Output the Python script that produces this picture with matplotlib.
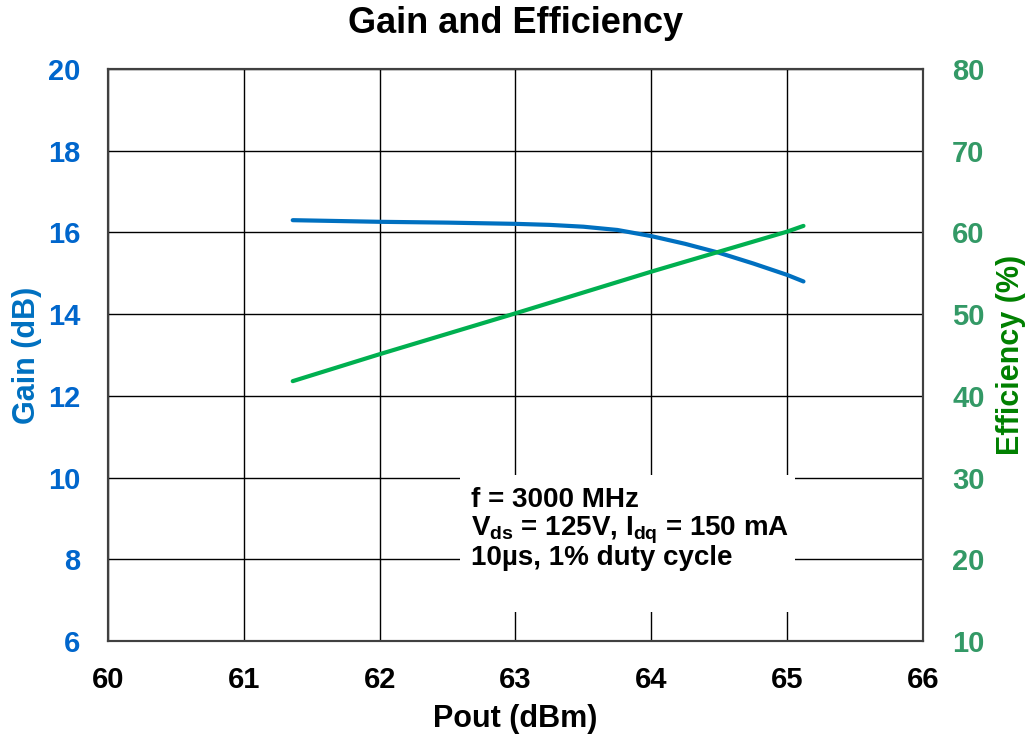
import matplotlib
matplotlib.use("Agg")
import matplotlib.pyplot as plt
from matplotlib.patches import Rectangle

plt.rcParams['font.family'] = ['Liberation Sans', 'DejaVu Sans']
plt.rcParams['font.weight'] = 'bold'
plt.rcParams['mathtext.fontset'] = 'custom'
plt.rcParams['mathtext.rm'] = 'Liberation Sans:bold'
plt.rcParams['mathtext.bf'] = 'Liberation Sans:bold'
plt.rcParams['mathtext.it'] = 'Liberation Sans:bold'

# data
pout_gain = [61.36, 62.0, 62.5, 63.0, 63.25, 63.5, 63.75, 64.0, 64.25, 64.5, 64.75, 65.0, 65.12]
gain = [16.30, 16.26, 16.24, 16.21, 16.185, 16.14, 16.06, 15.91, 15.72, 15.50, 15.24, 14.96, 14.80]
pout_eff = [61.36, 62.0, 63.0, 64.0, 65.0, 65.12]
eff = [41.8, 45.1, 50.1, 55.2, 60.1, 60.8]

x_ticks = [60, 61, 62, 63, 64, 65, 66]
gain_ticks = [6, 8, 10, 12, 14, 16, 18, 20]
eff_ticks = [10, 20, 30, 40, 50, 60, 70, 80]

notes = ['f = 3000 MHz',
         r'V$_{\mathrm{ds}}$ = 125V, I$_{\mathrm{dq}}$ = 150 mA',
         '10µs, 1% duty cycle']
notes_y = [9.28, 8.57, 7.86]

blue = '#0070C0'
green_line = '#00B050'
green_tick = '#339966'
green_label = '#008000'

fig = plt.figure(figsize=(10.29, 7.42), dpi=100)
ax = fig.add_axes([108/1029, 1-641/742, (923-108)/1029, (641-69)/742])
ax2 = ax.twinx()

ax.set_xlim(60, 66)
ax.set_ylim(6, 20)
ax2.set_ylim(10, 80)
ax.set_xticks(x_ticks)
ax.set_yticks(gain_ticks)
ax2.set_yticks(eff_ticks)
ax.grid(True, color='black', lw=1)

ax.tick_params(axis='x', length=0, pad=18, labelsize=21)
ax.tick_params(axis='y', length=0, pad=20, labelsize=21, labelcolor='#0066CC')
ax2.tick_params(axis='y', length=0, pad=21, labelsize=21, labelcolor=green_tick)

for a in (ax, ax2):
    for s in a.spines.values():
        s.set_color('#404040')
        s.set_linewidth(1.5)

ax.plot(pout_gain, gain, color=blue, lw=3, solid_capstyle='round', zorder=5)
ax2.plot(pout_eff, eff, color=green_line, lw=3, solid_capstyle='round', zorder=5)

# white box behind the conditions text
ax.add_patch(Rectangle((62.59, 6.71), 2.47, 3.35, facecolor='white', edgecolor='none', zorder=3))
for txt, yy in zip(notes, notes_y):
    ax.text(62.67, yy, txt, fontsize=20, fontweight='bold', va='baseline', ha='left', zorder=6)

ax.set_xlabel('Pout (dBm)', fontsize=22, fontweight='bold', labelpad=7)
ax.set_ylabel('Gain (dB)', fontsize=22, fontweight='bold', color=blue)
ax2.set_ylabel('Efficiency (%)', fontsize=22, fontweight='bold', color=green_label)
ax.yaxis.set_label_coords(-0.081, 0.5)
ax2.yaxis.set_label_coords(1.0896, 0.5)
ax.set_title('Gain and Efficiency', fontsize=26, fontweight='bold', pad=26)

fig.savefig('out.png', dpi=100)
